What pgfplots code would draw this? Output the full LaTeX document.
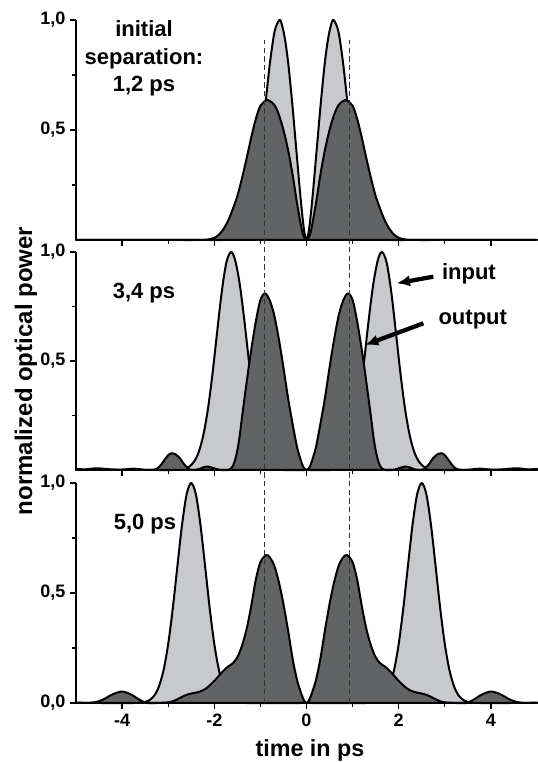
\documentclass[border=0pt]{standalone}
\usepackage{fontspec}
\setmainfont{Liberation Sans}
\usepackage{pgfplots}
\pgfplotsset{compat=1.18}
\usetikzlibrary{arrows.meta}
\definecolor{lightfill}{RGB}{200,201,204}
\definecolor{darkfill}{RGB}{98,99,101}
\pgfplotsset{
  panel/.style={
    scale only axis, width=345.75pt,
    xmin=-5, xmax=5, ymin=0, ymax=1,
    axis x line=bottom, axis y line=left,
    axis line style={-, line width=1.1pt, black},
    clip=false, tick align=outside,
    major tick length=4.5pt, minor tick length=3pt,
    every tick/.style={black, line width=1pt},
    xtick={-4,-2,0,2,4}, minor xtick={-3,-1,1,3},
    minor ytick={0.25,0.75},
    tick label style={font=\fontsize{13.5}{15}\selectfont\bfseries},
    anchor=south west,
  },
  inp/.style={smooth, tension=0.5, fill=lightfill, draw=black, line width=1.5pt, line join=round},
  outp/.style={smooth, tension=0.5, fill=darkfill, draw=black, line width=1.5pt, line join=round},
}
\begin{document}
\begin{tikzpicture}
\useasboundingbox (0pt,0pt) rectangle (402.75pt,571.5pt);

% ---------------- top panel: 1,2 ps ----------------
\begin{axis}[panel, at={(57pt,391.5pt)}, height=165pt,
  xticklabels={}, ytick={0.5,1}, yticklabels={{0,5},{1,0}}]
\addplot[inp] table[row sep=\\] {
x y\\
-5 0\\ -3 0\\ -2.2 0\\ -1.8 0\\ -1.65 0.003\\ -1.5 0.013\\ -1.39 0.034\\ -1.29 0.076\\ -1.19 0.15\\ -1.09 0.27\\ -0.99 0.43\\ -0.89 0.62\\ -0.79 0.81\\ -0.69 0.95\\ -0.59 1.0\\ -0.55 0.99\\ -0.5 0.95\\ -0.45 0.89\\ -0.4 0.81\\ -0.35 0.71\\ -0.3 0.60\\ -0.25 0.48\\ -0.2 0.36\\ -0.15 0.24\\ -0.1 0.13\\ -0.05 0.04\\
0 0\\
0.05 0.04\\ 0.1 0.13\\ 0.15 0.24\\ 0.2 0.36\\ 0.25 0.48\\ 0.3 0.60\\ 0.35 0.71\\ 0.4 0.81\\ 0.45 0.89\\ 0.5 0.95\\ 0.55 0.99\\ 0.59 1.0\\ 0.69 0.95\\ 0.79 0.81\\ 0.89 0.62\\ 0.99 0.43\\ 1.09 0.27\\ 1.19 0.15\\ 1.29 0.076\\ 1.39 0.034\\ 1.5 0.013\\ 1.65 0.003\\ 1.8 0\\ 2.2 0\\ 3 0\\ 5 0\\
} \closedcycle;
\addplot[outp] table[row sep=\\] {
x y\\
-5 0\\ -4 0\\ -3 0\\ -2.4 0\\ -2.2 0.001\\ -2.1 0.004\\ -2.0 0.01\\ -1.9 0.024\\ -1.8 0.05\\ -1.7 0.088\\ -1.6 0.14\\ -1.5 0.2\\ -1.4 0.28\\ -1.3 0.37\\ -1.2 0.465\\ -1.1 0.55\\ -1.0 0.61\\ -0.87 0.635\\ -0.8 0.632\\ -0.7 0.615\\ -0.6 0.57\\ -0.5 0.5\\ -0.4 0.41\\ -0.3 0.295\\ -0.2 0.16\\ -0.1 0.045\\ -0.05 0.012\\
0 0\\
0.05 0.012\\ 0.1 0.045\\ 0.2 0.16\\ 0.3 0.295\\ 0.4 0.41\\ 0.5 0.5\\ 0.6 0.57\\ 0.7 0.615\\ 0.8 0.632\\ 0.87 0.635\\ 1.0 0.61\\ 1.1 0.55\\ 1.2 0.465\\ 1.3 0.37\\ 1.4 0.28\\ 1.5 0.2\\ 1.6 0.14\\ 1.7 0.088\\ 1.8 0.05\\ 1.9 0.024\\ 2.0 0.01\\ 2.1 0.004\\ 2.2 0.001\\ 2.4 0\\ 3 0\\ 4 0\\ 5 0\\
} \closedcycle;
\end{axis}

% ---------------- middle panel: 3,4 ps ----------------
\begin{axis}[panel, at={(57pt,219pt)}, height=163.5pt,
  xticklabels={}, ytick={0.5,1}, yticklabels={{0,5},{1,0}}]
\addplot[inp] table[row sep=\\] {
x y\\
-5 0\\ -4 0\\ -3.3 0\\ -2.9 0\\ -2.74 0.002\\ -2.64 0.006\\ -2.54 0.016\\ -2.44 0.038\\ -2.34 0.081\\ -2.24 0.158\\ -2.14 0.277\\ -2.04 0.44\\ -1.94 0.63\\ -1.84 0.815\\ -1.74 0.95\\ -1.64 1.0\\ -1.55 0.965\\ -1.45 0.855\\ -1.35 0.69\\ -1.25 0.50\\ -1.15 0.32\\ -1.05 0.19\\ -0.95 0.10\\ -0.85 0.048\\ -0.75 0.02\\ -0.65 0.008\\ -0.5 0\\
0 0\\
0.5 0\\ 0.65 0.008\\ 0.75 0.02\\ 0.85 0.048\\ 0.95 0.10\\ 1.05 0.19\\ 1.15 0.32\\ 1.25 0.50\\ 1.35 0.69\\ 1.45 0.855\\ 1.55 0.965\\ 1.64 1.0\\ 1.74 0.95\\ 1.84 0.815\\ 1.94 0.63\\ 2.04 0.44\\ 2.14 0.277\\ 2.24 0.158\\ 2.34 0.081\\ 2.44 0.038\\ 2.54 0.016\\ 2.64 0.006\\ 2.74 0.002\\ 2.9 0\\ 3.3 0\\ 4 0\\ 5 0\\
} \closedcycle;
\addplot[outp] table[row sep=\\] {
x y\\
-5.0 0.005\\ -4.8 0.003\\ -4.55 0.008\\ -4.25 0.003\\ -4.0 0.002\\ -3.75 0.006\\ -3.45 0\\ -3.3 0.002\\ -3.2 0.013\\ -3.1 0.04\\ -3.0 0.068\\ -2.92 0.077\\ -2.85 0.073\\ -2.75 0.055\\ -2.65 0.025\\ -2.55 0.004\\ -2.45 0\\ -2.35 0.003\\ -2.25 0.011\\ -2.15 0.016\\ -2.05 0.011\\ -1.95 0.004\\ -1.85 0\\ -1.7 0\\ -1.65 0.005\\ -1.6 0.017\\ -1.55 0.045\\ -1.5 0.09\\ -1.45 0.155\\ -1.4 0.24\\ -1.3 0.40\\ -1.2 0.55\\ -1.1 0.68\\ -1.0 0.78\\ -0.9 0.81\\ -0.8 0.78\\ -0.7 0.71\\ -0.6 0.60\\ -0.5 0.47\\ -0.4 0.33\\ -0.3 0.21\\ -0.2 0.1\\ -0.1 0.03\\ -0.05 0.007\\
0 0\\
0.05 0.007\\ 0.1 0.03\\ 0.2 0.1\\ 0.3 0.21\\ 0.4 0.33\\ 0.5 0.47\\ 0.6 0.60\\ 0.7 0.71\\ 0.8 0.78\\ 0.9 0.81\\ 1.0 0.78\\ 1.1 0.68\\ 1.2 0.55\\ 1.3 0.40\\ 1.4 0.24\\ 1.45 0.155\\ 1.5 0.09\\ 1.55 0.045\\ 1.6 0.017\\ 1.65 0.005\\ 1.7 0\\ 1.85 0\\ 1.95 0.004\\ 2.05 0.011\\ 2.15 0.016\\ 2.25 0.011\\ 2.35 0.003\\ 2.45 0\\ 2.55 0.004\\ 2.65 0.025\\ 2.75 0.055\\ 2.85 0.073\\ 2.92 0.077\\ 3.0 0.068\\ 3.1 0.04\\ 3.2 0.013\\ 3.3 0.002\\ 3.45 0\\ 3.75 0.006\\ 4.0 0.002\\ 4.25 0.003\\ 4.55 0.008\\ 4.8 0.003\\ 5.0 0.005\\
} \closedcycle;
\end{axis}

% ---------------- bottom panel: 5,0 ps ----------------
\begin{axis}[panel, at={(57pt,44.25pt)}, height=165pt,
  xticklabels={-4,-2,0,2,4}, ytick={0,0.5,1}, yticklabels={{0,0},{0,5},{1,0}}]
\addplot[inp] table[row sep=\\] {
x y\\
-5 0\\ -4.5 0\\ -3.75 0\\ -3.6 0.0017\\ -3.5 0.005\\ -3.4 0.014\\ -3.3 0.034\\ -3.2 0.076\\ -3.1 0.15\\ -3.0 0.268\\ -2.9 0.431\\ -2.8 0.623\\ -2.7 0.81\\ -2.6 0.949\\ -2.5 1.0\\ -2.4 0.949\\ -2.3 0.81\\ -2.2 0.623\\ -2.1 0.431\\ -2.0 0.268\\ -1.9 0.15\\ -1.8 0.076\\ -1.7 0.034\\ -1.6 0.014\\ -1.5 0.005\\ -1.4 0.002\\ -1.3 0\\
0 0\\
1.3 0\\ 1.4 0.002\\ 1.5 0.005\\ 1.6 0.014\\ 1.7 0.034\\ 1.8 0.076\\ 1.9 0.15\\ 2.0 0.268\\ 2.1 0.431\\ 2.2 0.623\\ 2.3 0.81\\ 2.4 0.949\\ 2.5 1.0\\ 2.6 0.949\\ 2.7 0.81\\ 2.8 0.623\\ 2.9 0.431\\ 3.0 0.268\\ 3.1 0.15\\ 3.2 0.076\\ 3.3 0.034\\ 3.4 0.014\\ 3.5 0.005\\ 3.6 0.0017\\ 3.75 0\\ 4.5 0\\ 5 0\\
} \closedcycle;
\addplot[outp] table[row sep=\\] {
x y\\
-5.0 0.002\\ -4.85 0.001\\ -4.7 0.001\\ -4.55 0.005\\ -4.4 0.017\\ -4.2 0.04\\ -4.0 0.052\\ -3.8 0.038\\ -3.6 0.012\\ -3.45 0\\ -3.2 0.0005\\ -3.0 0.003\\ -2.9 0.008\\ -2.8 0.017\\ -2.7 0.028\\ -2.6 0.037\\ -2.5 0.043\\ -2.4 0.047\\ -2.3 0.053\\ -2.2 0.063\\ -2.1 0.08\\ -2.0 0.10\\ -1.9 0.124\\ -1.8 0.147\\ -1.7 0.166\\ -1.6 0.18\\ -1.5 0.208\\ -1.4 0.26\\ -1.3 0.335\\ -1.2 0.44\\ -1.1 0.56\\ -1.0 0.64\\ -0.88 0.672\\ -0.8 0.663\\ -0.7 0.625\\ -0.6 0.55\\ -0.5 0.45\\ -0.4 0.33\\ -0.3 0.20\\ -0.2 0.10\\ -0.1 0.035\\ -0.05 0.01\\
0 0\\
0.05 0.01\\ 0.1 0.035\\ 0.2 0.10\\ 0.3 0.20\\ 0.4 0.33\\ 0.5 0.45\\ 0.6 0.55\\ 0.7 0.625\\ 0.8 0.663\\ 0.88 0.672\\ 1.0 0.64\\ 1.1 0.56\\ 1.2 0.44\\ 1.3 0.335\\ 1.4 0.26\\ 1.5 0.208\\ 1.6 0.18\\ 1.7 0.166\\ 1.8 0.147\\ 1.9 0.124\\ 2.0 0.10\\ 2.1 0.08\\ 2.2 0.063\\ 2.3 0.053\\ 2.4 0.047\\ 2.5 0.043\\ 2.6 0.037\\ 2.7 0.028\\ 2.8 0.017\\ 2.9 0.008\\ 3.0 0.003\\ 3.2 0.0005\\ 3.45 0\\ 3.6 0.012\\ 3.8 0.038\\ 4.0 0.052\\ 4.2 0.04\\ 4.4 0.017\\ 4.55 0.005\\ 4.7 0.001\\ 4.85 0.001\\ 5.0 0.002\\
} \closedcycle;
% dashed guide lines through all three panels
\draw[dash pattern=on 4pt off 2.5pt, line width=0.6pt, black!80] (axis cs:-0.92,0) -- (axis cs:-0.92,3.014);
\draw[dash pattern=on 4pt off 2.5pt, line width=0.6pt, black!80] (axis cs:0.92,0) -- (axis cs:0.92,3.014);
\end{axis}

% ---------------- texts ----------------
\node[rotate=90, font=\fontsize{18}{20}\selectfont\bfseries] at (19.5pt,293.25pt) {normalized optical power};
\node[anchor=base, font=\fontsize{17.5}{20}\selectfont\bfseries] at (232.5pt,3.75pt) {time in ps};

\node[anchor=base, font=\fontsize{16.5}{20}\selectfont\bfseries] at (108pt,544pt) {initial};
\node[anchor=base, font=\fontsize{16.5}{20}\selectfont\bfseries] at (108pt,522.75pt) {separation:};
\node[anchor=base, font=\fontsize{16.5}{20}\selectfont\bfseries] at (108pt,502.7pt) {1,2 ps};
\node[anchor=base, font=\fontsize{16.5}{20}\selectfont\bfseries] at (108pt,347.8pt) {3,4 ps};
\node[anchor=base, font=\fontsize{16.5}{20}\selectfont\bfseries] at (108.75pt,174pt) {5,0 ps};

\node[anchor=base west, inner sep=0pt, font=\fontsize{16.5}{20}\selectfont\bfseries] at (331.3pt,361.5pt) {input};
\node[anchor=base west, inner sep=0pt, font=\fontsize{16.5}{20}\selectfont\bfseries] at (328.7pt,327.75pt) {output};
\draw[line width=3.2pt, -{Latex[length=10pt,width=8.5pt]}] (325pt,364pt) -- (297.5pt,359pt);
\draw[line width=3.2pt, -{Latex[length=10pt,width=8.5pt]}] (317.5pt,329pt) -- (273.75pt,312.75pt);
\end{tikzpicture}
\end{document}
